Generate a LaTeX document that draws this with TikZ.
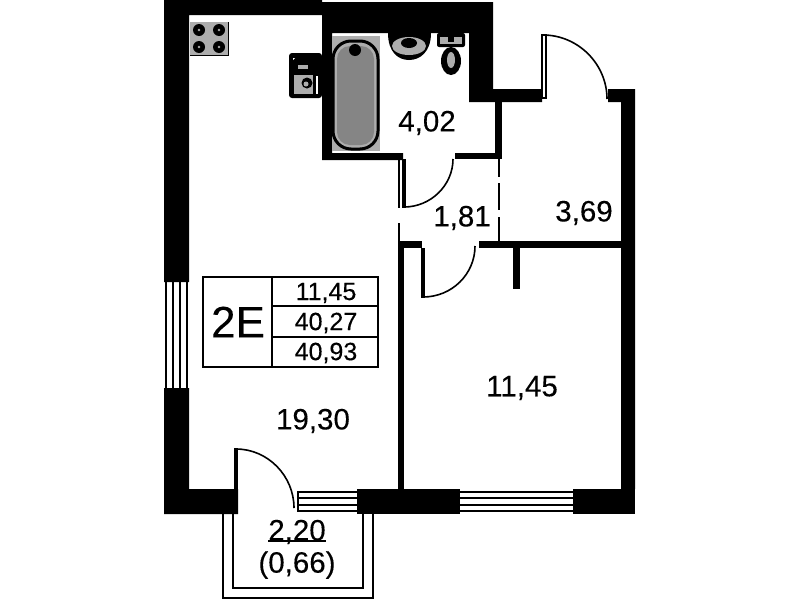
\documentclass[tikz,border=0pt]{standalone}
\usepackage{fontspec}
\setmainfont{Liberation Sans}
\newfontfamily\planfont[FakeBold=0.2]{Liberation Sans}
\usetikzlibrary{calc,positioning}
\definecolor{fixgray}{gray}{0.68}
\definecolor{bathgray}{gray}{0.52}
\tikzset{
    areatext/.style={inner sep=0pt,font=\planfont\fontsize{29.5}{32}\selectfont},
    tabletext/.style={inner sep=0pt,font=\planfont\fontsize{25}{28}\selectfont},
    wall/.style={fill=black,draw=none},
    doorleaf/.style={fill=black,draw=none},
    doorarc/.style={draw=black,line width=1.6pt},
    glazing/.style={draw=black,line width=1.6pt},
    thinwall/.style={draw=black,line width=2pt},
    burner/.style={fill=black,draw=none}
}
\begin{document}
\begin{tikzpicture}[x=1pt,y=-1pt]
    \useasboundingbox (0,0) rectangle (799,600);
    \fill[white] (0,0) rectangle (799,600);

    % Balcony
    \draw[thinwall] (223,514) -- (223,598) -- (373,598) -- (373,514);
    \draw[thinwall] (233,510) -- (233,588) -- (363,588) -- (363,514);

    % Outer walls
    \fill[wall] (164,0) -- (322,0) -- (322,2) -- (493,2) -- (493,89) -- (542,89) -- (542,102) -- (469,102)
        -- (469,33) -- (332,33) -- (332,153) -- (403,153) -- (403,160) -- (322,160) -- (322,15) -- (189,15)
        -- (189,282) -- (164,282) -- cycle;
    \fill[wall] (164,388) -- (189,388) -- (189,489) -- (238,489) -- (238,514) -- (164,514) -- cycle;
    \fill[wall] (357,489) rectangle (460,514);
    \fill[wall] (573,489) rectangle (635,514);
    \fill[wall] (608,89) -- (635,89) -- (635,489) -- (621,489) -- (621,102) -- (608,102) -- cycle;

    % Inner walls
    \fill[wall] (495,102) rectangle (502,159);
    \fill[wall] (455,153) rectangle (502,159);
    \fill[wall] (398,241) rectangle (404,489);
    \fill[wall] (398,241) rectangle (422,248);
    \fill[wall] (479,241) rectangle (621,248);
    \fill[wall] (513,248) rectangle (520,289);

    % Dashed partitions
    \draw[black,line width=1.6pt] (399,160) -- (399,208);
    \draw[black,line width=1.6pt] (399,223) -- (399,241);
    \foreach \dy/\dz in {159/177,183/210,217/241} {
        \draw[black,line width=1.6pt] (499,\dy) -- (499,\dz);
    }

    % Windows
    \foreach \wx in {166,173,180,187} {
        \draw[glazing] (\wx,282) -- (\wx,388);
    }
    \foreach \wy in {492,498,505,511} {
        \draw[glazing] (298,\wy) -- (357,\wy);
        \draw[glazing] (460,\wy) -- (573,\wy);
    }
    \draw[glazing] (298,491) -- (298,512);

    % Doors
    \coordinate (door1a) at (543,35);
    \coordinate (door1b) at (607,99);
    \draw[black,line width=1.6pt] (542,35) rectangle (546,98);
    \draw[doorarc] (door1a) .. controls (578,35) and (607,64) .. (door1b);

    \coordinate (door2a) at (404,207);
    \coordinate (door2b) at (453,159);
    \fill[doorleaf] (402,159) rectangle (406,208);
    \draw[doorarc] (door2a) .. controls (431,207) and (453,185) .. (door2b);

    \coordinate (door3a) at (423,297);
    \coordinate (door3b) at (475,246);
    \fill[doorleaf] (421,248) rectangle (425,298);
    \draw[doorarc] (door3a) .. controls (452,297) and (475,274) .. (door3b);

    \coordinate (door4a) at (236,449);
    \coordinate (door4b) at (294,508);
    \fill[doorleaf] (234,448) rectangle (238,489);
    \draw[doorarc] (door4a) .. controls (268,449) and (294,476) .. (door4b);

    % Stove
    \fill[fixgray] (190,22) rectangle (228,55);
    \draw[black,line width=1pt] (190,55) -- (228,55) -- (228,22);
    \foreach \bx/\by in {199/30,219/30,199/47,219/47} {
        \fill[burner] (\bx,\by) circle (6);
        \fill[fixgray] (\bx,\by) circle (1.3);
    }

    % Kitchen sink
    \fill[black,rounded corners=3pt] (289,53) rectangle (322,98);
    \fill[fixgray] (298,65) rectangle (308,69);
    \fill[white] (293,58) -- (293,60) -- (295,58) -- cycle;
    \fill[fixgray] (294,75) rectangle (313,94);
    \fill[white] (316,76) rectangle (318,94);
    \fill[burner] (307,83) circle (5.5);
    \fill[fixgray] (306,84) circle (2.5);

    % Bath
    \fill[fixgray] (332,36) rectangle (380,151);
    \draw[black,line width=3pt,fill=fixgray,rounded corners=18pt] (333,41) rectangle (378,149);
    \fill[bathgray,rounded corners=13pt] (337,46) rectangle (374,145);
    \fill[burner] (355,50) circle (6);

    % Basin
    \fill[black] (388,33) -- (431,33) .. controls (431,52) and (420,60) .. (409,60)
        .. controls (398,60) and (388,52) .. (388,33) -- cycle;
    \fill[fixgray] (409,46) ellipse (17 and 9);
    \fill[burner] (409,43) ellipse (8 and 5);

    % Toilet
    \fill[black,rounded corners=2pt] (437,33) rectangle (465,47);
    \fill[fixgray] (440,37) rectangle (462,44);
    \fill[burner] (448,37) rectangle (454,42);
    \fill[black] (451,61) ellipse (10 and 14);
    \fill[fixgray] (451,60) ellipse (4 and 8);

    % Table
    \draw[black,line width=2pt] (203,277) rectangle (378,367);
    \draw[black,line width=2pt] (272,277) -- (272,367);
    \draw[black,line width=2.4pt] (272,306) -- (378,306);
    \draw[black,line width=2.4pt] (272,337) -- (378,337);
    \node[inner sep=0pt,font=\planfont\fontsize{44}{46}\selectfont] (code) at (238,322) {2E};
    \node[tabletext] (living) at (326,293) {11,45};
    \node[tabletext] (total) at (326,323) {40,27};
    \node[tabletext] (full) at (326,353) {40,93};

    % Room areas
    \node[areatext] (bathroom) at (427,123) {4,02};
    \node[areatext] (corridor) at (462,218) {1,81};
    \node[areatext] (hall) at (584,213) {3,69};
    \node[areatext] (bedroom) at (522,388) {11,45};
    \node[areatext] (kitchen) at (313,421) {19,30};
    \node[areatext] (balcony) at (297,532) {2,20};
    \node[areatext] (balconyk) at (297,565) {(0,66)};
    \draw[black,line width=1.4pt] (268,541) -- (326,541);
\end{tikzpicture}
\end{document}
